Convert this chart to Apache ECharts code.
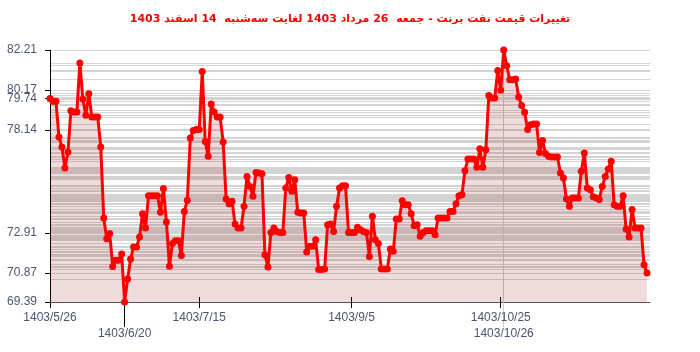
<!DOCTYPE html>
<html>
<head>
<meta charset="utf-8">
<script src="https://cdn.jsdelivr.net/npm/echarts@6/dist/echarts.min.js"></script>
<style>
  html, body { margin: 0; padding: 0; background: #fff; }
  #chart { width: 700px; height: 352px; }
</style>
</head>
<body>
<div id="chart"></div>
<script>
const TITLE = 'تغییرات قیمت نفت برنت - جمعه  26 مرداد 1403 لغایت سه‌شنبه  14 اسفند 1403';

// one value per calendar day, 1403/5/26 .. 1403/12/14
const prices = [
  79.74, 79.60, 79.60, 77.78, 77.28, 76.21, 77.02, 79.12, 79.06, 79.06,
  81.55, 79.72, 78.89, 79.99, 78.80, 78.80, 78.80, 77.28, 73.66, 72.61,
  72.87, 71.20, 71.51, 71.51, 71.83, 69.39, 70.56, 71.58, 72.19, 72.19,
  72.70, 73.88, 73.16, 74.80, 74.80, 74.80, 74.80, 73.95, 75.16, 73.46,
  71.21, 72.36, 72.51, 72.51, 71.76, 74.00, 74.56, 77.73, 78.11, 78.16,
  78.16, 81.12, 77.56, 76.80, 79.46, 79.05, 78.80, 78.80, 77.53, 74.63,
  74.39, 74.51, 73.36, 73.16, 73.16, 74.26, 75.78, 75.27, 74.77, 75.98,
  75.95, 75.92, 71.80, 71.17, 72.93, 73.15, 72.98, 72.93, 72.93, 75.19,
  75.73, 75.02, 75.61, 73.95, 73.92, 73.92, 71.93, 72.22, 72.22, 72.56,
  71.04, 71.04, 71.07, 73.32, 73.36, 72.98, 74.26, 75.19, 75.31, 75.31,
  72.93, 72.93, 72.93, 73.19, 73.07, 72.98, 72.93, 71.71, 73.75, 72.56,
  72.36, 71.07, 71.07, 71.07, 72.09, 71.97, 73.61, 73.61, 74.54, 74.34,
  74.34, 73.88, 73.27, 73.32, 72.73, 72.93, 73.02, 73.02, 73.02, 72.81,
  73.66, 73.66, 73.66, 73.66, 74.00, 74.00, 74.39, 74.80, 74.85, 76.07,
  76.66, 76.66, 76.66, 76.24, 77.19, 76.24, 77.14, 79.89, 79.77, 79.77,
  81.17, 80.16, 82.21, 81.41, 80.70, 80.70, 80.73, 79.82, 79.39, 79.04,
  78.16, 78.41, 78.44, 78.44, 77.00, 77.60, 76.94, 76.80, 76.77, 76.77,
  76.77, 75.95, 75.70, 74.63, 74.26, 74.68, 74.68, 74.68, 76.04, 76.97,
  75.19, 75.10, 74.74, 74.68, 74.60, 75.27, 75.78, 76.16, 76.55, 74.34,
  74.26, 74.26, 74.80, 73.10, 72.70, 74.09, 73.15, 73.15, 73.15, 71.29,
  70.87
];

const yTicks = [82.21, 80.17, 79.74, 78.14, 72.91, 70.87, 69.39];
const xTickDays = [0, 50, 101, 151];
const xTickLabels = ['1403/5/26', '1403/7/15', '1403/9/5', '1403/10/25'];
const minDay = [25];
const minLabel = '1403/6/20';
const maxDay = [152];
const maxLabel = '1403/10/26';

const Y_MIN = Math.min(...prices);
const Y_MAX = Math.max(...prices);
const LABEL_COLOR = '#4a5570';
const TITLE_FONT = 'DejaVu Sans';
const AXIS_FONT = 'Liberation Sans';

const chart = echarts.init(document.getElementById('chart'));

const gridLineValues = Array.from(new Set(prices));

function dayLabel(days, labels) {
  return (value) => {
    const i = days.findIndex((d) => Math.abs(d - value) < 0.01);
    return i >= 0 ? labels[i] : '';
  };
}

const baseX = {
  type: 'value',
  min: 0,
  max: 201,
  position: 'bottom',
  splitLine: { show: false },
};

chart.setOption({
  animation: false,
  title: {
    text: TITLE,
    left: 'center',
    top: 9,
    textStyle: { color: '#ff0000', fontSize: 11, fontWeight: 'bold', fontFamily: TITLE_FONT },
  },
  grid: { left: 50, right: 50, top: 50, bottom: 50 },
  xAxis: [
    {
      ...baseX,
      axisLine: { lineStyle: { color: '#555', width: 1 } },
      axisTick: { customValues: xTickDays, length: 6, lineStyle: { color: '#000' } },
      axisLabel: {
        customValues: xTickDays,
        formatter: dayLabel(xTickDays, xTickLabels),
        color: LABEL_COLOR, fontSize: 12, fontFamily: AXIS_FONT, margin: 10,
      },
    },
    {
      ...baseX,
      axisLine: { show: false },
      axisTick: { customValues: xTickDays.slice(1), length: 5, inside: true, lineStyle: { color: '#000' } },
      axisLabel: { show: false },
    },
    {
      ...baseX,
      axisLine: { show: false },
      axisTick: { customValues: minDay, length: 25, lineStyle: { color: '#000' } },
      axisLabel: {
        customValues: minDay,
        formatter: () => minLabel,
        color: LABEL_COLOR, fontSize: 12, fontFamily: AXIS_FONT, margin: 26,
      },
    },
    {
      ...baseX,
      axisLine: { show: false },
      axisTick: { customValues: maxDay, length: 25, lineStyle: { color: '#c8c8c8' } },
      splitLine: { show: true, lineStyle: { color: '#c8c8c8', width: 1 } },
      axisLabel: {
        customValues: maxDay,
        formatter: () => maxLabel,
        color: LABEL_COLOR, fontSize: 12, fontFamily: AXIS_FONT, margin: 26,
      },
    },
  ],
  yAxis: [
    {
      type: 'value',
      min: Y_MIN,
      max: Y_MAX,
      axisLine: { show: true, lineStyle: { color: '#000' } },
      axisTick: { show: true, customValues: yTicks, length: 5, lineStyle: { color: '#000' } },
      axisLabel: {
        customValues: yTicks,
        formatter: (v) => v.toFixed(2),
        color: LABEL_COLOR, fontSize: 12, fontFamily: AXIS_FONT, margin: 13,
        verticalAlign: 'middle', padding: [0, 0, 6, 0],
      },
      splitLine: { show: false },
    },
    {
      type: 'value',
      min: Y_MIN,
      max: Y_MAX,
      axisLine: { show: false },
      axisLabel: { show: false },
      axisTick: { show: false, customValues: gridLineValues },
      splitLine: { show: true, lineStyle: { color: '#d4d4d4', width: 1 } },
    },
  ],
  series: [
    {
      type: 'line',
      data: prices.map((v, i) => [i, v]),
      xAxisIndex: 0,
      yAxisIndex: 0,
      symbol: 'circle',
      symbolSize: 7,
      showAllSymbol: true,
      itemStyle: { color: '#ff0000' },
      lineStyle: { color: '#ff0000', width: 3 },
      areaStyle: { color: 'rgba(139, 0, 0, 0.2)', origin: 'start' },
      z: 3,
    },
  ],
});
</script>
</body>
</html>
